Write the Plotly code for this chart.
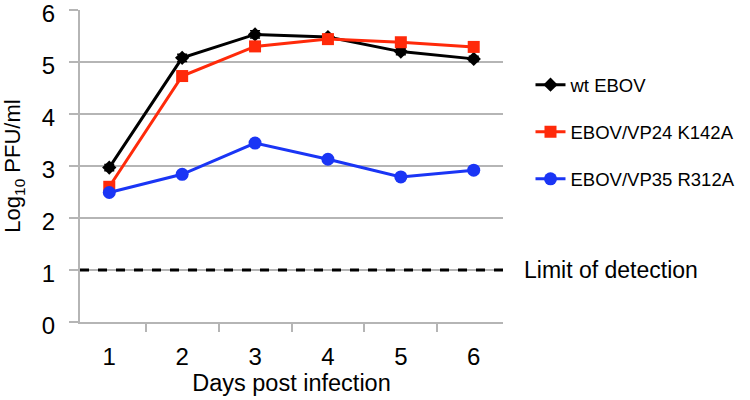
import plotly.graph_objects as go

days = ["1", "2", "3", "4", "5", "6"]
wt_ebov = [2.97, 5.08, 5.53, 5.48, 5.20, 5.06]
wt_err = [0.06, 0.07, 0.07, 0.04, 0.06, 0.05]
vp24 = [2.60, 4.73, 5.30, 5.44, 5.38, 5.29]
vp24_err = [0.05, 0.06, 0.06, 0.05, 0.04, 0.05]
vp35 = [2.49, 2.84, 3.44, 3.13, 2.79, 2.92]
vp35_err = [0.05, 0.04, 0.06, 0.05, 0.04, 0.05]
limit_of_detection = 1
y_ticks = [0, 1, 2, 3, 4, 5, 6]

FONT = "Liberation Sans, Arial, sans-serif"

fig = go.Figure()
fig.add_trace(go.Scatter(
    x=days, y=wt_ebov, name="wt EBOV", mode="lines+markers",
    line=dict(color="black", width=3),
    marker=dict(symbol="diamond", size=11, color="black"),
    error_y=dict(type="data", array=wt_err, color="black", thickness=1.5, width=5),
    legendgroup="a",
))
fig.add_trace(go.Scatter(
    x=days, y=vp24, name="EBOV/VP24 K142A", mode="lines+markers",
    line=dict(color="#ff2a0a", width=3),
    marker=dict(symbol="square", size=12, color="#ff2a0a"),
    error_y=dict(type="data", array=vp24_err, color="#ff2a0a", thickness=1.5, width=5),
    legendgroup="b",
))
fig.add_trace(go.Scatter(
    x=days, y=vp35, name="EBOV/VP35 R312A", mode="lines+markers",
    line=dict(color="#1a35f5", width=3),
    marker=dict(symbol="circle", size=13, color="#1a35f5"),
    error_y=dict(type="data", array=vp35_err, color="#1a35f5", thickness=1.5, width=5),
    legendgroup="c",
))

fig.add_shape(type="line", xref="paper", yref="y", x0=0, x1=1,
              y0=limit_of_detection, y1=limit_of_detection,
              line=dict(color="black", width=3, dash="dash"))
fig.add_annotation(text="Limit of detection", xref="paper", yref="y",
                   x=1.045, y=limit_of_detection, xanchor="left", yanchor="middle",
                   showarrow=False, font=dict(family=FONT, size=23, color="black"))

fig.update_layout(
    width=750, height=400,
    margin=dict(l=80, r=234, t=10, b=78),
    plot_bgcolor="white", paper_bgcolor="white",
    font=dict(family=FONT, color="black"),
    showlegend=True,
    legend=dict(x=1.065, y=0.82, xanchor="left", yanchor="top",
                font=dict(family=FONT, size=18.5, color="black"),
                tracegroupgap=20, bgcolor="rgba(0,0,0,0)"),
    xaxis=dict(
        type="category", categoryorder="array", categoryarray=days,
        automargin=False,
        showline=True, linecolor="#b5b5b5", linewidth=2,
        ticks="outside", tickson="boundaries", ticklen=8, tickcolor="#b5b5b5", tickwidth=2,
        ticklabelstandoff=12,
        showgrid=False, tickfont=dict(size=24, family=FONT),
        title=dict(text="Days post infection", font=dict(size=23.5, family=FONT), standoff=2),
    ),
    yaxis=dict(
        range=[0, 6], tickvals=y_ticks, automargin=False,
        ticklabeloverflow="allow", ticklabelshift=4,
        showline=True, linecolor="#b5b5b5", linewidth=2,
        ticks="outside", ticklen=9, tickcolor="#b5b5b5", tickwidth=2,
        ticklabelstandoff=9,
        showgrid=True, gridcolor="#b5b5b5", gridwidth=2,
        zeroline=False, tickfont=dict(size=24, family=FONT),
        title=dict(text="Log<sub>10</sub> PFU/ml", font=dict(size=22, family=FONT), standoff=20),
    ),
)

fig.write_html("out.html", config={"displayModeBar": False},
               post_script="document.body.style.margin='0';")
